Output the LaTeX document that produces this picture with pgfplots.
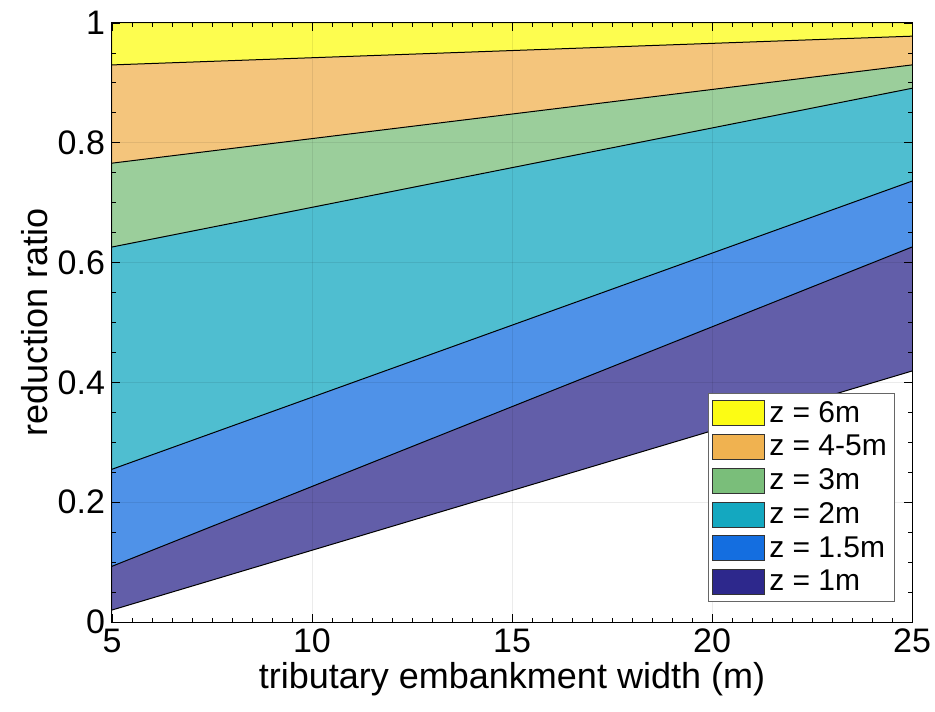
\documentclass[border=0pt]{standalone}
\usepackage{pgfplots}
\pgfplotsset{compat=1.18}
\usepackage{fontspec}
\setmainfont{Liberation Sans}
\definecolor{cA}{RGB}{252,252,20}
\definecolor{cB}{RGB}{240,178,80}
\definecolor{cC}{RGB}{122,190,122}
\definecolor{cD}{RGB}{20,168,192}
\definecolor{cE}{RGB}{20,110,224}
\definecolor{cF}{RGB}{45,40,140}
\begin{document}
\begin{tikzpicture}
\begin{axis}[name=ax,
  scale only axis, width=400pt, height=299.5pt,
  xmin=5, xmax=25, ymin=0, ymax=1,
  xtick={5,10,15,20,25}, ytick={0,0.2,0.4,0.6,0.8,1},
  minor x tick num=9, minor y tick num=3,
  major tick length=4pt, minor tick length=2pt,
  tick style={black, line width=0.4pt},
  tick align=inside, xtick pos=both, ytick pos=both,
  grid=major, grid style={black, opacity=0.08, line width=0.4pt},
  axis on top,
  axis line style={black, line width=0.5pt},
  /pgf/number format/assume math mode=true,
  tick label style={font=\fontsize{17}{17}\selectfont},
  label style={font=\fontsize{18}{18}\selectfont},
  xlabel={tributary embankment width (m)},
  ylabel={reduction ratio},
  xlabel style={yshift=2pt},
  ylabel style={yshift=-2pt},
  legend cell align=left,
  legend style={at={(axis description cs:0.979,0.033)}, anchor=south east,
    draw=black!60, line width=0.4pt, font=\fontsize{15}{15}\selectfont,
    row sep=1pt, inner xsep=2pt, inner ysep=2pt},
  legend image code/.code={\draw[#1] (0pt,-6.25pt) rectangle (26pt,6.25pt);},
]
% bands (bottom to top)
\addplot[forget plot, draw=none, fill=cF, fill opacity=0.75] coordinates {(5,0.020) (25,0.419) (25,0.626) (5,0.093)} -- cycle;
\addplot[forget plot, draw=none, fill=cE, fill opacity=0.75] coordinates {(5,0.093) (25,0.626) (25,0.736) (5,0.255)} -- cycle;
\addplot[forget plot, draw=none, fill=cD, fill opacity=0.75] coordinates {(5,0.255) (25,0.736) (25,0.891) (5,0.626)} -- cycle;
\addplot[forget plot, draw=none, fill=cC, fill opacity=0.75] coordinates {(5,0.626) (25,0.891) (25,0.930) (5,0.766)} -- cycle;
\addplot[forget plot, draw=none, fill=cB, fill opacity=0.75] coordinates {(5,0.766) (25,0.930) (25,0.978) (5,0.930)} -- cycle;
\addplot[forget plot, draw=none, fill=cA, fill opacity=0.75] coordinates {(5,0.930) (25,0.978) (25,1.000) (5,1.000)} -- cycle;
% boundary lines
\addplot[forget plot, black, line width=0.5pt] coordinates {(5,0.020) (25,0.419)};
\addplot[forget plot, black, line width=0.5pt] coordinates {(5,0.093) (25,0.626)};
\addplot[forget plot, black, line width=0.5pt] coordinates {(5,0.255) (25,0.736)};
\addplot[forget plot, black, line width=0.5pt] coordinates {(5,0.626) (25,0.891)};
\addplot[forget plot, black, line width=0.5pt] coordinates {(5,0.766) (25,0.930)};
\addplot[forget plot, black, line width=0.5pt] coordinates {(5,0.930) (25,0.978)};
% legend
\addlegendimage{fill=cA, draw=black!80}
\addlegendentry{z = 6m}
\addlegendimage{fill=cB, draw=black!80}
\addlegendentry{z = 4-5m}
\addlegendimage{fill=cC, draw=black!80}
\addlegendentry{z = 3m}
\addlegendimage{fill=cD, draw=black!80}
\addlegendentry{z = 2m}
\addlegendimage{fill=cE, draw=black!80}
\addlegendentry{z = 1.5m}
\addlegendimage{fill=cF, draw=black!80}
\addlegendentry{z = 1m}
\end{axis}
\pgfresetboundingbox
\path[use as bounding box] ([xshift=-56pt,yshift=-44.5pt]ax.south west) rectangle ([xshift=11.5pt,yshift=11.5pt]ax.north east);
\end{tikzpicture}
\end{document}
